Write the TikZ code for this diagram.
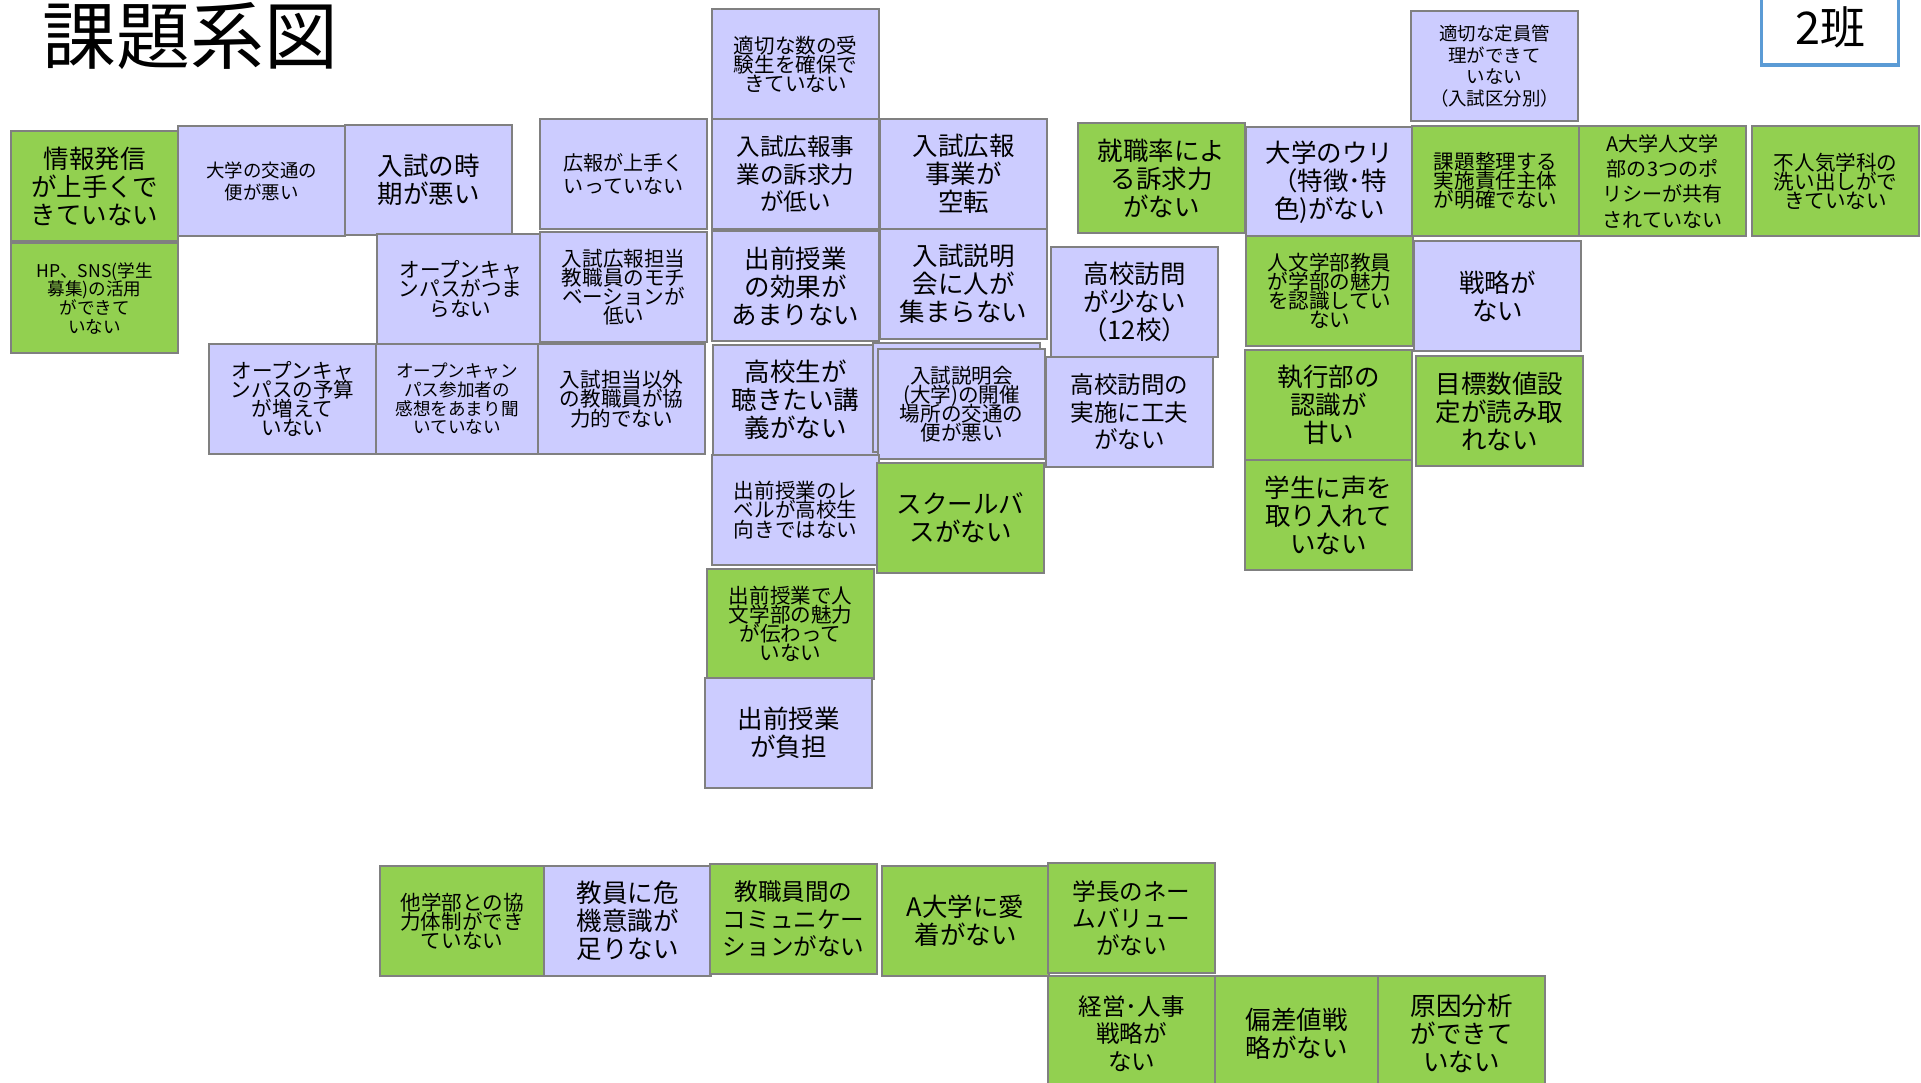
\documentclass[tikz,border=0pt]{standalone}
\usepackage{fontspec}
\setmainfont{Noto Sans CJK JP}
\setlength{\lineskiplimit}{-20pt}

\definecolor{lavfill}{RGB}{204,204,255}
\definecolor{grnfill}{RGB}{146,208,80}
\definecolor{edgegray}{RGB}{128,128,128}
\definecolor{hanblue}{RGB}{91,155,213}

\begin{document}
\begin{tikzpicture}[x=0.01cm, y=-0.01cm,
  card/.style={draw=edgegray, line width=0.6pt, anchor=north west, inner sep=0pt,
    minimum width=1.67cm, minimum height=1.10cm, align=center},
  lav/.style={card, fill=lavfill},
  grn/.style={card, fill=grnfill},
  txtbig/.style={font=\fontsize{7.25}{7.95}\selectfont},
  txtmid/.style={font=\fontsize{6.7}{7.8}\selectfont},
  txtsnug/.style={font=\fontsize{5.85}{5.45}\selectfont},
  txtloose/.style={font=\fontsize{5.7}{6.6}\selectfont},
  txttiny/.style={font=\fontsize{5.25}{6.25}\selectfont},
  txtcramp/.style={font=\fontsize{5.0}{5.3}\selectfont}]

\useasboundingbox (0,0) rectangle (1921,1083);

% Title and group tag
\node[anchor=west, inner sep=0pt, font=\fontsize{21}{21}\selectfont] (title) at (42,36) {課題系図};
\node[draw=hanblue, line width=0.9pt, fill=white, inner sep=0pt,
  minimum width=1.37cm, minimum height=0.76cm, font=\fontsize{12.8}{13}\selectfont] (han) at (1830,27) {2班};

% Left block
\node[grn, txtbig] (info) at (10,130) {情報発信\\が上手くで\\きていない};
\node[grn, txtcramp] (hpsns) at (10,242) {HP、SNS(学生\\募集)の活用\\ができて\\いない};
\node[lav, txttiny] (kotsu) at (177,125) {大学の交通の\\便が悪い};
\node[lav, txtbig] (jiki) at (344,124) {入試の時\\期が悪い};
\node[lav, txtloose] (kouhou) at (539,118) {広報が上手く\\いっていない};
\node[lav, txtsnug] (ocboring) at (376,233) {オープンキャ\\ンパスがつま\\らない};
\node[lav, txtsnug] (motiv) at (539,231) {入試広報担当\\教職員のモチ\\ベーションが\\低い};
\node[lav, txtsnug] (ocbudget) at (208,343) {オープンキャ\\ンパスの予算\\が増えて\\いない};
\node[lav, txtcramp, minimum width=1.62cm] (ocvoice) at (375,343) {オープンキャン\\パス参加者の\\感想をあまり聞\\いていない};
\node[lav, txtsnug] (kyouryoku) at (537,343) {入試担当以外\\の教職員が協\\力的でない};

% Centre column
\node[lav, txtsnug] (juken) at (711,8) {適切な数の受\\験生を確保で\\きていない};
\node[lav, txtmid] (soukyu) at (711,118) {入試広報事\\業の訴求力\\が低い};
\node[lav, txtbig] (kuuten) at (879,118) {入試広報\\事業が\\空転};
\node[lav, txtbig] (kouka) at (711,230) {出前授業\\の効果が\\あまりない};
\node[lav, txtbig] (setsumei) at (879,228) {入試説明\\会に人が\\集まらない};
\node[lav, txtbig, minimum width=1.65cm] (kikitai) at (712,344) {高校生が\\聴きたい講\\義がない};
\draw[draw=edgegray, line width=0.6pt, fill=lavfill] (873,343) rectangle (1040,452);
\node[lav, txtsnug] (basho) at (877,348) {入試説明会\\(大学)の開催\\場所の交通の\\便が悪い};
\node[lav, txtsnug] (level) at (711,454) {出前授業のレ\\ベルが高校生\\向きではない};
\node[grn, txtbig] (bus) at (876,462) {スクールバ\\スがない};
\node[grn, txtsnug] (demaemiryoku) at (706,568) {出前授業で人\\文学部の魅力\\が伝わって\\いない};
\node[lav, txtbig] (futan) at (704,677) {出前授業\\が負担};

% High school visits
\node[lav, txtbig] (houmon) at (1050,246) {高校訪問\\が少ない\\（12校）};
\node[lav, txtmid] (kufuu) at (1045,356) {高校訪問の\\実施に工夫\\がない};

% Right block
\node[grn, txtbig] (shushoku) at (1077,122) {就職率によ\\る訴求力\\がない};
\node[lav, txtbig] (uri) at (1245,126) {大学のウリ\\（特徴･特\\色)がない};
\node[grn, txtsnug] (ninshiki) at (1245,235) {人文学部教員\\が学部の魅力\\を認識してい\\ない};
\node[grn, txtbig] (shikkou) at (1244,349) {執行部の\\認識が\\甘い};
\node[grn, txtbig] (koe) at (1244,459) {学生に声を\\取り入れて\\いない};
\node[lav, txttiny] (teiin) at (1410,10) {適切な定員管\\理ができて\\いない\\（入試区分別）};
\node[grn, txtsnug] (seiri) at (1411,125) {課題整理する\\実施責任主体\\が明確でない};
\node[grn, txtloose, font=\fontsize{5.7}{7.2}\selectfont] (policy) at (1578,125) {A大学人文学\\部の3つのポ\\リシーが共有\\されていない};
\node[grn, txtsnug] (funinki) at (1751,125) {不人気学科の\\洗い出しがで\\きていない};
\node[lav, txtbig] (senryaku) at (1413,240) {戦略が\\ない};
\node[grn, txtbig] (mokuhyou) at (1415,355) {目標数値設\\定が読み取\\れない};

% Bottom rows
\node[grn, txtsnug, minimum width=1.64cm] (tagakubu) at (379,865) {他学部との協\\力体制ができ\\ていない};
\node[lav, txtbig] (kiki) at (543,865) {教員に危\\機意識が\\足りない};
\node[grn, txtmid] (komyu) at (709,863) {教職員間の\\コミュニケー\\ションがない};
\node[grn, txtbig] (aichaku) at (881,865) {A大学に愛\\着がない};
\node[grn, txtmid] (gakuchou) at (1047,862) {学長のネー\\ムバリュー\\がない};
\node[grn, txtmid, minimum height=1.15cm] (jinji) at (1047,975) {経営･人事\\戦略が\\ない};
\node[grn, txtbig, minimum width=1.63cm, minimum height=1.15cm] (hensachi) at (1214,975) {偏差値戦\\略がない};
\node[grn, txtbig, minimum height=1.15cm] (genin) at (1377,975) {原因分析\\ができて\\いない};

\end{tikzpicture}
\end{document}
